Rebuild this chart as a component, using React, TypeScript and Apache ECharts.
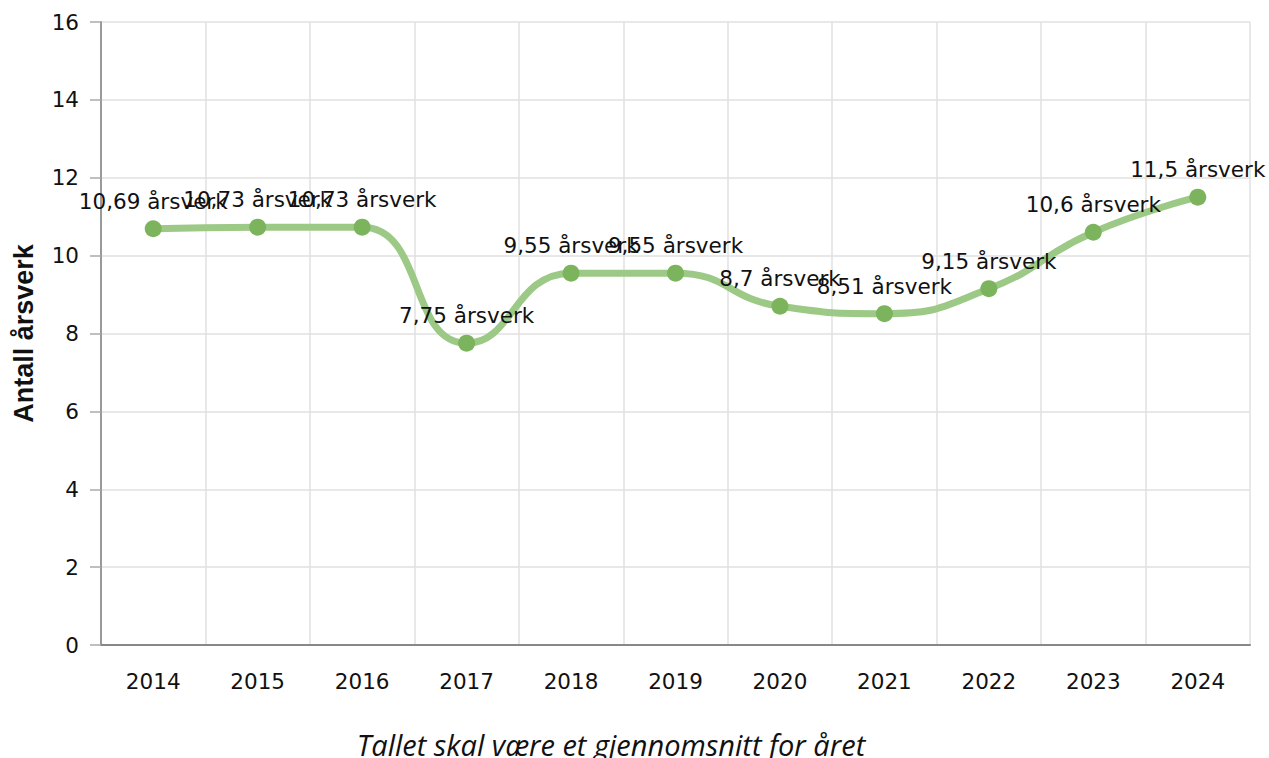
import React, { useEffect, useRef } from "react";
import * as echarts from "echarts";

const years = ["2014", "2015", "2016", "2017", "2018", "2019", "2020", "2021", "2022", "2023", "2024"];
const values = [10.69, 10.73, 10.73, 7.75, 9.55, 9.55, 8.7, 8.51, 9.15, 10.6, 11.5];
const yTicks = [0, 2, 4, 6, 8, 10, 12, 14, 16];
const yTitle = "Antall årsverk";
const xTitle = "Tallet skal være et gjennomsnitt for året";
const unit = "årsverk";

export default function App() {
  const ref = useRef<HTMLDivElement>(null);
  useEffect(() => {
    const chart = echarts.init(ref.current!, null, { renderer: "svg" });
    const font = "DejaVu Sans";
    chart.setOption({
      animation: false,
      grid: { left: 101, right: 19, top: 22, bottom: 113 },
      graphic: [
        {
          type: "text",
          x: 611,
          y: 744,
          style: {
            text: xTitle,
            fontFamily: "Open Sans",
            fontStyle: "italic",
            fontSize: 29,
            fill: "#111",
            textAlign: "center",
            textVerticalAlign: "middle",
          },
        },
      ],
      xAxis: {
        type: "category",
        data: years,
        boundaryGap: true,
        axisLine: { lineStyle: { color: "#888", width: 2 } },
        axisTick: { alignWithLabel: true, length: 8, lineStyle: { color: "#999", width: 1.5 } },
        axisLabel: { fontFamily: font, fontSize: 21.5, color: "#111", margin: 25 },
        splitLine: { show: true, lineStyle: { color: "#e0e0e0", width: 1.5 } },
      },
      yAxis: {
        type: "value",
        min: yTicks[0],
        max: yTicks[yTicks.length - 1],
        interval: 2,
        name: yTitle,
        nameLocation: "middle",
        nameGap: 64,
        nameTextStyle: { fontFamily: "Liberation Sans", fontWeight: "bold", fontSize: 27, color: "#111" },
        axisLine: { show: true, lineStyle: { color: "#999", width: 2 } },
        axisTick: { show: true, length: 11, lineStyle: { color: "#aaa", width: 1.5 } },
        axisLabel: { fontFamily: font, fontSize: 21.5, color: "#111", margin: 22 },
        splitLine: { show: true, lineStyle: { color: "#e0e0e0", width: 1.5 } },
      },
      series: [
        {
          type: "line",
          data: values,
          smooth: 0.5,
          symbol: "circle",
          symbolSize: 17,
          lineStyle: { color: "#9cc985", width: 7 },
          itemStyle: { color: "#7cb45d" },
          label: {
            show: true,
            position: "top",
            distance: 8,
            fontFamily: font,
            fontSize: 21.5,
            color: "#111",
            formatter: (p: any) => String(p.value).replace(".", ",") + " " + unit,
          },
          labelLayout: { hideOverlap: false },
        },
      ],
    });
    return () => chart.dispose();
  }, []);
  return <div ref={ref} style={{ position: "absolute", left: 0, top: 0, width: 1269, height: 758 }} />;
}
